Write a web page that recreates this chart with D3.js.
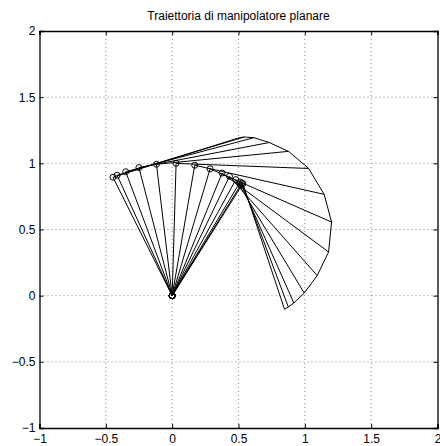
<!DOCTYPE html>
<html lang="it">
  <head>
    <meta charset="utf-8">
    <title>Traiettoria di manipolatore planare</title>
    <script src="https://d3js.org/d3.v7.min.js"></script>
    <style>
      body { margin: 0; background: #fff; }
      text { font-family: "Liberation Sans", Arial, sans-serif; }
    </style>
  </head>
  <body>
    <script>
    // joint angles for each frame (degrees), links of unit length
    const q1 = [116.5, 114.5, 110.5, 104.5, 96.8, 88.3, 80.2, 73.4, 67.9, 64.4, 61.3, 59.2, 58.3, 57.8]
    const q2 = [-99.1, -97.7, -95.6, -93.6, -91.2, -90.5, -92.9, -97.1, -104.5, -113.0, -120.3, -125.3, -127.8, -129.5]
    const L1 = 1
    const L2 = 1

    const tickValues = [-1, -0.5, 0, 0.5, 1, 1.5, 2]
    const tickLabels = ["\u22121", "\u22120.5", "0", "0.5", "1", "1.5", "2"]
    const title = "Traiettoria di manipolatore planare"

    const measurements = {
        width: 440,
        height: 446,
        left: 39.5,
        right: 437.5,
        top: 31,
        bottom: 428
    }

    const svg = d3.select('body').append('svg')
        .attr('width', measurements.width)
        .attr('height', measurements.height)

    const scaleX = d3.scaleLinear()
        .domain([-1, 2])
        .range([measurements.left, measurements.right])
    const scaleY = d3.scaleLinear()
        .domain([-1, 2])
        .range([measurements.bottom, measurements.top])

    // grid (dotted)
    const grid = svg.append('g')
    grid.selectAll('.gx')
        .data(tickValues.slice(1, -1))
        .enter().append('line')
        .attr('x1', d => scaleX(d)).attr('x2', d => scaleX(d))
        .attr('y1', measurements.top).attr('y2', measurements.bottom)
        .attr('stroke', '#888').attr('stroke-width', 1)
        .attr('stroke-dasharray', '1,3')
    grid.selectAll('.gy')
        .data(tickValues.slice(1, -1))
        .enter().append('line')
        .attr('y1', d => scaleY(d)).attr('y2', d => scaleY(d))
        .attr('x1', measurements.left).attr('x2', measurements.right)
        .attr('stroke', '#888').attr('stroke-width', 1)
        .attr('stroke-dasharray', '1,3')

    // kinematics
    const rad = Math.PI / 180
    const frames = q1.map((a, i) => {
        const ex = L1 * Math.cos(a * rad)
        const ey = L1 * Math.sin(a * rad)
        const b = (a + q2[i]) * rad
        return { ex: ex, ey: ey, tx: ex + L2 * Math.cos(b), ty: ey + L2 * Math.sin(b) }
    })

    const line = d3.line().x(d => scaleX(d[0])).y(d => scaleY(d[1]))

    svg.append('g').selectAll('path')
        .data(frames)
        .enter().append('path')
        .attr('d', f => line([[0, 0], [f.ex, f.ey], [f.tx, f.ty]]))
        .attr('fill', 'none')
        .attr('stroke', '#000')
        .attr('stroke-width', 1)

    // end-effector path
    svg.append('path')
        .attr('d', line(frames.map(f => [f.tx, f.ty])))
        .attr('fill', 'none')
        .attr('stroke', '#000')
        .attr('stroke-width', 1)

    const markers = svg.append('g')
    frames.forEach(f => {
        markers.append('circle')
            .attr('cx', scaleX(0)).attr('cy', scaleY(0)).attr('r', 3)
            .attr('fill', 'none').attr('stroke', '#000')
        markers.append('circle')
            .attr('cx', scaleX(f.ex)).attr('cy', scaleY(f.ey)).attr('r', 3)
            .attr('fill', 'none').attr('stroke', '#000')
    })

    // axes with inward ticks on all sides
    const fmt = d => tickLabels[tickValues.indexOf(d)]
    svg.append('g')
        .attr('transform', `translate(0,${measurements.bottom})`)
        .call(d3.axisBottom(scaleX).tickValues(tickValues).tickSize(-4).tickPadding(6).tickFormat(fmt))
    svg.append('g')
        .attr('transform', `translate(${measurements.left},0)`)
        .call(d3.axisLeft(scaleY).tickValues(tickValues).tickSize(-4).tickPadding(4).tickFormat(fmt))
    svg.append('g')
        .attr('transform', `translate(0,${measurements.top})`)
        .call(d3.axisTop(scaleX).tickValues(tickValues).tickSize(-4).tickFormat(''))
    svg.append('g')
        .attr('transform', `translate(${measurements.right},0)`)
        .call(d3.axisRight(scaleY).tickValues(tickValues).tickSize(-4).tickFormat(''))

    svg.selectAll('.domain').attr('stroke', '#000').attr('stroke-width', 1.3)
    svg.selectAll('.tick line').attr('stroke', '#000')
    svg.selectAll('.tick text')
        .attr('fill', '#000')
        .style('font-size', '12px')
        .style('font-family', '"Liberation Sans", Arial, sans-serif')

    svg.append('text')
        .attr('x', (measurements.left + measurements.right) / 2)
        .attr('y', 20)
        .attr('text-anchor', 'middle')
        .style('font-size', '12px')
        .text(title)
    </script>
  </body>
</html>
